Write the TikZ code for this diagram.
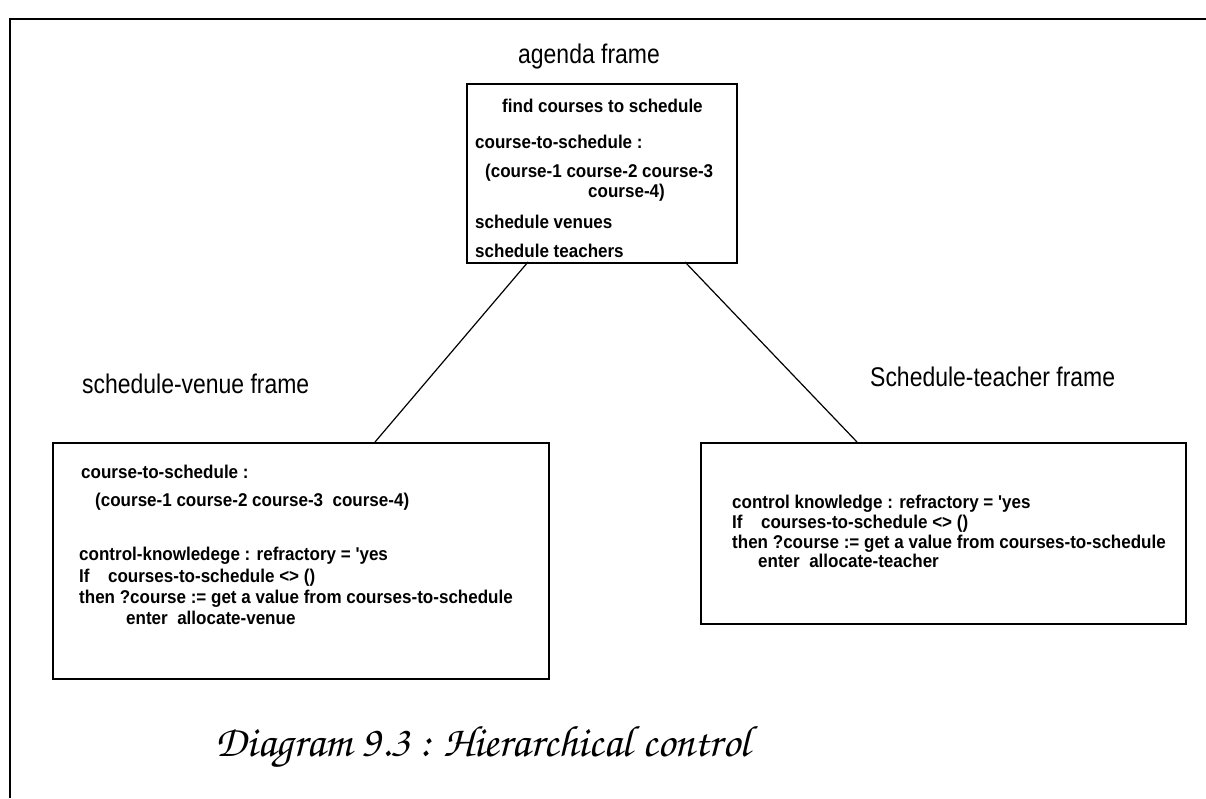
\documentclass[tikz,border=0pt]{standalone}
\usepackage[T1]{fontenc}
\usepackage{fontspec}
\setmainfont{Liberation Sans}
\newfontfamily\slotfont[FakeStretch=0.92]{Liberation Sans}
\newfontfamily\titlefont[FakeStretch=0.85]{Liberation Sans}
\newcommand{\scriptcaption}{\usefont{T1}{pzc}{mb}{it}}
\begin{document}
\begin{tikzpicture}[x=1pt,y=-1pt,
  framebox/.style={draw,line width=1.8pt,inner sep=0pt,anchor=north west},
  slot/.style={font=\slotfont\bfseries\fontsize{18.5}{22}\selectfont,inner sep=0pt,anchor=base west},
  frametitle/.style={font=\titlefont\fontsize{27}{30}\selectfont,inner sep=0pt,anchor=base west},
  link/.style={line width=1.2pt}]
\useasboundingbox (0,0) rectangle (1206,798);

% outer border (top and left edges only)
\coordinate (edgeA) at (10,798);
\coordinate (edgeB) at (10,19);
\coordinate (edgeC) at (1206,19);
\draw[line width=2pt] (edgeA) -- (edgeB) -- (edgeC);

% agenda frame
\node[frametitle] (agtitle) at (518,63) {agenda frame};
\node[framebox,minimum width=270pt,minimum height=179pt] (agenda) at (466,83) {};
\node[slot] (ag1) at (502,112) {find courses to schedule};
\node[slot] (ag2) at (475,148) {course-to-schedule :};
\node[slot] (ag3) at (485,177) {(course-1 course-2 course-3};
\node[slot] (ag4) at (588,197) {course-4)};
\node[slot] (ag5) at (475,228) {schedule venues};
\node[slot] (ag6) at (475,257) {schedule teachers};

% schedule-venue frame
\node[frametitle] (svtitle) at (82,393) {schedule-venue frame};
\node[framebox,minimum width=496pt,minimum height=236pt] (venue) at (52,442) {};
\node[slot] (sv1) at (81,478) {course-to-schedule :};
\node[slot] (sv2) at (95,506) {(course-1 course-2 course-3\ \ course-4)};
\node[slot] (sv3) at (79,560) {control-knowledege : refractory = 'yes};
\node[slot] (sv4) at (79,582) {If\quad courses-to-schedule <> ()};
\node[slot] (sv5) at (79,603) {then ?course := get a value from courses-to-schedule};
\node[slot] (sv6) at (126,624) {enter\ \ allocate-venue};

% schedule-teacher frame
\node[frametitle] (sttitle) at (870,386) {Schedule-teacher frame};
\node[framebox,minimum width=485pt,minimum height=181pt] (teacher) at (700,442) {};
\node[slot] (st1) at (732,508) {control knowledge : refractory = 'yes};
\node[slot] (st2) at (732,528) {If\quad courses-to-schedule <> ()};
\node[slot] (st3) at (732,548) {then ?course := get a value from courses-to-schedule};
\node[slot] (st4) at (758,567) {enter\ \ allocate-teacher};

% hierarchy links
\coordinate (agL) at (528,262);
\coordinate (agR) at (685,262);
\coordinate (vTop) at (375,442);
\coordinate (tTop) at (857,442);
\draw[link] (agL) -- (vTop);
\draw[link] (agR) -- (tTop);

% caption
\node[inner sep=0pt,font=\scriptcaption\fontsize{44}{48}\selectfont] (caption) at (483,748) {Diagram 9.3 : Hierarchical control};
\end{tikzpicture}
\end{document}
